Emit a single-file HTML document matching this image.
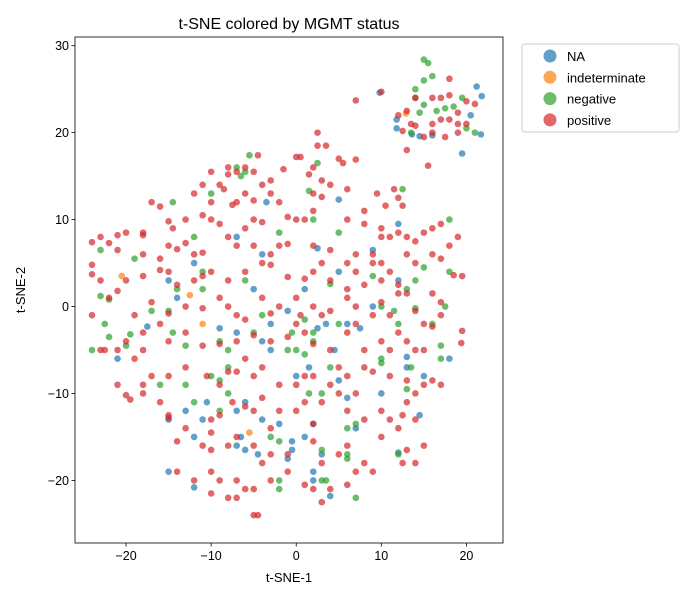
<!DOCTYPE html>
<html><head><meta charset="utf-8"><style>
body{margin:0;background:#fff;}
svg text{font-family:"Liberation Sans","DejaVu Sans",sans-serif;fill:#000;}
</style></head><body>
<svg id="chart" width="700" height="600" xmlns="http://www.w3.org/2000/svg">
<rect width="700" height="600" fill="#fff"/>
<text x="289" y="29" text-anchor="middle" font-size="16">t-SNE colored by MGMT status</text>
<g id="marks"></g>
<g id="axes"></g>
<text x="289" y="582" text-anchor="middle" font-size="13">t-SNE-1</text>
<text x="0" y="0" transform="translate(25,290) rotate(-90)" text-anchor="middle" font-size="13">t-SNE-2</text>
<g id="legend"></g>
</svg>
<script>
const categories = ["NA","indeterminate","negative","positive"];
const colors = ["#1f77b4","#ff7f0e","#2ca02c","#d62728"];
const xTicks = [-20,-10,0,10,20];
const yTicks = [-20,-10,0,10,20,30];
const naPoints = [[-21,-6],[-17.5,-2.3],[-15,3],[-15,-13],[-15,-19],[-13,-12],[-12,5],[-12,-15],[-12,-20.8],[-11,-13],[-10.5,-11],[-9,-2.5],[-7,8],[-7,-3],[-7,-12],[-7,-16],[-6.5,-15],[-6,-11],[-6,-16.5],[-5,2],[-4.5,-17],[-4,6],[-4,-4],[-4,-13],[-3.5,12],[-3,-2],[-3,-5],[-2,-13.5],[-1,-0.5],[-1,-17.5],[-0.5,-15.5],[-0.5,-16.5],[0,-8],[1,2],[1.5,-7],[2,-20],[2,-13.5],[2,-19],[2.5,6.7],[2.5,-2.5],[3,-17],[3.5,-2],[4,-21.8],[4.5,-5],[5,12.3],[5,4],[5,-8.5],[6,-2],[6,-10.5],[7,-14],[7.5,-2.5],[9,6.5],[9,0],[10,-10],[12,9.5],[12,-16.8],[12,3],[13,-5.8],[13,-7],[14.5,-12.5],[15,-8],[18,-6],[9.8,24.6],[1,-15],[-14,1],[21.2,25.3],[21.8,24.2],[11.8,21.5],[11.8,20.5],[13.6,19.8],[14.5,19.6],[16,19.7],[19.5,17.6],[20.5,22],[21.7,19.8]];
const indPoints = [[-20.5,3.5],[-12.5,1.3],[-11,-2],[-5.5,-14.5],[12.9,22.2]];
const negPoints = [[-24,-5],[-22.5,-2],[-22,-3.5],[-23,1.2],[-22,0.8],[-23,6.5],[-19,5.5],[-19.5,-3.2],[-20,-4.5],[-17,-0.5],[-15,-0.5],[-14.5,-3],[-14.5,12],[-14,2],[-13,-4.5],[-12,8],[-11,2],[-11,4],[-10,13],[-10,-8],[-9,-8.5],[-9,-4],[-8,-5],[-8,-7],[-7,16],[-6.5,15],[-6,15.5],[-6,3],[-5.5,17.4],[-5,-3],[-4,-1],[-3,-15],[-2,-15.5],[-2,8.5],[-2,-20],[-2,-21],[-1,-5],[-0.5,-3],[0,-5],[1,-1.5],[1,-5.5],[1.5,13.3],[2,-3],[2,-4],[2,10],[2.5,16.5],[3,-16.5],[3,-20],[3.5,-20],[4,-7],[4,2.6],[5,8.5],[5,-2],[6,-17],[6,-17.5],[7,-22],[9,3.5],[10,-6],[10,-6.5],[11.5,-0.5],[12,-17],[12.5,13.5],[13,2],[13,-9.5],[13.5,-7],[14,-0.2],[14,3],[15,4.5],[16,-2],[17,-4.5],[17,-6],[17.5,0],[18,10],[18,4],[13.5,20],[14,24],[12,-2],[10,0],[6,-14],[7,-13.5],[3,-10],[1.5,-10],[-9,-12],[-8,-10],[-13,-9],[-16,-9],[-12,-11],[15,28.4],[15.5,28],[15,26],[16,26.5],[14,25],[15,23.2],[16.5,22.5],[17.5,22.8],[18.5,23],[19.5,24],[20,20.5],[21,20],[14.5,22.3]];
const posPoints = [[10,24.7],[7,23.7],[12,22],[13,22.5],[14,24],[16,24],[17,24],[18,24.3],[18,26.2],[19,22.3],[20,23.6],[21,23.3],[20,21],[17,21.5],[16,20],[18,21.5],[19,21],[13,18],[15,19.5],[14,20.8],[15.5,16.2],[12.5,20.2],[13.5,21],[17.5,19.5],[19,20],[16,21],
[-6,16],[-5,15.5],[-4.5,17.4],[-7,15.5],[0,17.2],[0.5,17.2],[5,17],[5.5,16.5],[7,16.9],[-8,16],
[-10,15.5],[-8,15.2],[-3,14.5],[-4,14],[-1.5,15.8],[1.5,15.2],[3.5,18.5],[2.5,18.5],[2.5,20],[2,16],
[-12,13],[-11,14],[-9,14],[-8.5,13.5],[-6,13],[-3,13],[-2,12],[-10,12],[-7.5,11.7],[-7,12],[-5,12.2],[2,13],[3,12.6],[6,13.5],[9.5,13],[11.5,13.5],[12,12.5],[12.5,11.6],[10.5,11.6],[3,14.5],[4,14],
[-17,12],[-16,11.5],[-15,9.8],[-14.5,9],[-13,10],[-11,10.5],[-10,10],[-9,9.5],[-6,9],[-5,10],[-4,9.7],[-1,10.3],[0,10],[1,10],[2,11],[6,10],[8,9.5],[10,9],[11,8],[12,8.5],[13,8],[14,7.5],[15,8.5],[16,9],[17,9.5],[8,11],[-20,8.5],[-21,8.2],[-23,8],[-24,7.4],[-18,8.5],[-18,8.2],
[-21,6.5],[-22,7.3],[-18,6],[-16,5.5],[-15,7],[-14,6.6],[-13,7.3],[-12,6],[-11,6.2],[-8,8],[-7,7],[-5,7],[-3,6],[-2,7],[-1,7.2],[2,7],[4,6.5],[6,5],[7,6],[9,6],[10,8],[10,5],[13,6],[14,5],[16,6],[17,5.5],[18,7],[19,8],[18.5,3.6],[19.5,3.5],[-24,4.8],[-24,3.7],
[-23,3],[-20,3],[-21,1.8],[-18,3.5],[-16,4.2],[-15,4],[-14,2.5],[-12,3],[-11,3.5],[-10,4],[-8,3],[-6,4],[-4,5],[-3,4.8],[-1,3.4],[1,3.2],[2,4],[3,5],[4,3],[6,2],[7,4],[8,2.5],[9,5],[10,3],[11,4],[12,2.5],[13,1.5],[16,1.5],[17,0.5],
[-22,1],[-19,-1],[-17,0.5],[-15,-0.8],[-13,0],[-11,-0.2],[-9,1],[-8,0],[-7,-1],[-6,-1.5],[-4,1],[-3,-0.8],[-2,0],[0,1],[0.5,-1],[2,0],[3,-1],[4,-0.5],[6,1],[7,0],[9,-1],[10,0.5],[11,-1],[12,1.5],[14,-0.5],[15,-2],[17,-1],[19.5,-2.8],[-24,-1],
[-20,-4],[-18,-3],[-16,-2],[-15,-4],[-13,-3],[-11,-4.5],[-9,-4.3],[-7,-4],[-6,-6],[-5,-3.3],[-3,-4],[-1,-3.5],[0,-2],[1,-3],[2,-4.3],[4,-5],[6,-3],[7,-2],[8,-5],[10,-4],[11,-5],[12,-3],[13,-4],[14,-5],[15,-5],[16,-2.3],[19.4,-4.2],[-23,-5],[-22.5,-5],[-21,-5],[-19,-6],[-18,-5],
[-21,-9],[-20,-10.2],[-19.5,-10.7],[-18,-9],[-17,-8],[-15,-8],[-13,-7],[-10.5,-8],[-9,-9],[-8,-7.5],[-7,-7.5],[-5,-8],[-4,-7],[-2,-9],[0,-9],[1,-8],[2,-8],[4,-9],[5,-7],[6,-8],[8,-7],[9,-7.5],[11,-8],[13,-8.5],[15,-9],[16,-8.5],[17,-9],[-18,-10],[-16,-11],
[-15,-12.5],[-13,-14],[-10,-13],[-9,-12.5],[-7.5,-11],[-6,-11.5],[-5,-12],[-4,-10.5],[-2,-12],[0,-12],[1,-11],[3,-11],[5,-10],[6,-12],[7,-10],[8,-13],[10,-12],[11,-13],[12.5,-12.5],[13,-11],[14,-13],[14,-10],[-15,-12.8],[2,-13.5],[-3,-14],[-10,-14.5],
[-14,-15.5],[-11,-16],[-10,-16.5],[-8,-16],[-7,-15],[-5,-16],[-4,-18],[-3,-17],[-1,-17],[2,-15.5],[3,-18],[5,-17],[6,-16],[8,-18],[10,-15],[12,-14],[13,-16.5],[14,-18],[15,-16],[12.5,-18],
[-14,-19],[-12,-20],[-10,-19],[-9,-20],[-8,-22],[-7,-20],[-6,-21],[-5,-21],[-3,-20],[-1,-19],[1,-20.5],[2,-21],[3,-22.5],[4,-21],[6,-20.5],[7,-19],[9,-19],[-10,-21.5],[-5,-24],[-4.5,-24],[-7,-22]];
const seriesPoints = [naPoints, indPoints, negPoints, posPoints];

const NS="http://www.w3.org/2000/svg";
const L=75,R=503,T=37,B=543;
const X0=-26,X1=24.3,Y0=-27.2,Y1=31;
function xs(v){return L+(v-X0)/(X1-X0)*(R-L);}
function ys(v){return B-(v-Y0)/(Y1-Y0)*(B-T);}
function mk(tag,attrs,parent){const e=document.createElementNS(NS,tag);for(const k in attrs)e.setAttribute(k,attrs[k]);parent.appendChild(e);return e;}

const marks=document.getElementById('marks');
seriesPoints.forEach((pts,si)=>{
  const g=mk('g',{},marks);
  
  
  pts.forEach(p=>{
    const c=mk('circle',{cx:xs(p[0]),cy:ys(p[1]),r:3.3,fill:colors[si],'fill-opacity':0.7},g);
    
    
  });
});

const axes=document.getElementById('axes');
const frame=mk('rect',{x:L,y:T,width:R-L,height:B-T,fill:'none',stroke:'#000','stroke-width':0.8},axes);


xTicks.forEach(v=>{
  const x=xs(v);
  mk('line',{x1:x,x2:x,y1:B,y2:B+3.5,stroke:'#000','stroke-width':0.8},axes);
  const t=mk('text',{x:x,y:B+17,'text-anchor':'middle','font-size':12.5},axes);
  t.textContent=v<0?'\u2212'+(-v):String(v);
  
  
});
yTicks.forEach(v=>{
  const y=ys(v);
  mk('line',{x1:L-3.5,x2:L,y1:y,y2:y,stroke:'#000','stroke-width':0.8},axes);
  const t=mk('text',{x:L-6,y:y+4.5,'text-anchor':'end','font-size':12.5},axes);
  t.textContent=v<0?'\u2212'+(-v):String(v);
  
  
});

const lg=document.getElementById('legend');
const box=mk('rect',{x:522,y:44,width:157,height:88,rx:3,fill:'#fff',stroke:'#ccc','stroke-width':1},lg);


categories.forEach((c,i)=>{
  const y=56+i*21.3;
  const g=mk('g',{},lg);
  
  
  mk('circle',{cx:550,cy:y,r:6.5,fill:colors[i],'fill-opacity':0.7},g);
  const t=mk('text',{x:567,y:y+5,'font-size':13},g);
  t.textContent=c;
});
</script>
</body></html>
